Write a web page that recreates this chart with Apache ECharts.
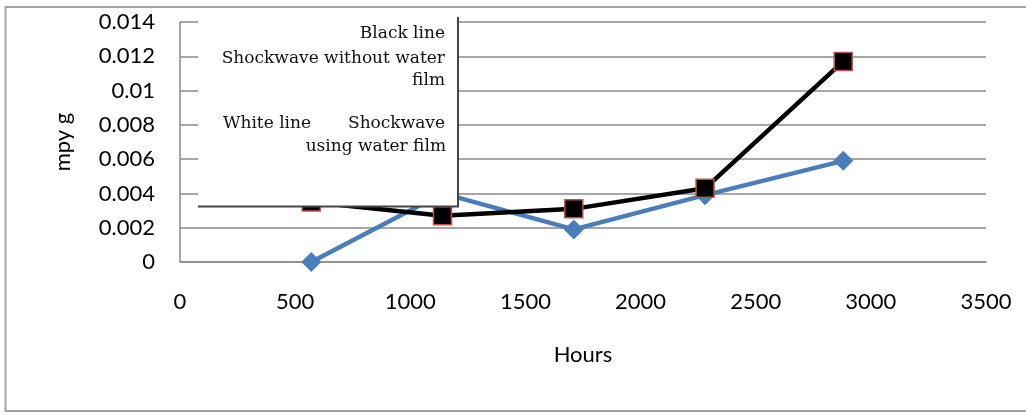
<!DOCTYPE html>
<html>
<head>
<meta charset="utf-8">
<script src="https://cdn.jsdelivr.net/npm/echarts@6/dist/echarts.min.js"></script>
<style>
  html, body { margin: 0; padding: 0; background: #fff; }
  #chart { width: 1026px; height: 414px; }
</style>
</head>
<body>
<div id="chart"></div>
<script>
// Exposure time in hours for each measurement
const hours = [570, 1140, 1710, 2280, 2880];
// Corrosion rate (mpy g) with shockwave treatment, no water film
const withoutWaterFilm = [0.0035, 0.0027, 0.0031, 0.0043, 0.0117];
// Corrosion rate (mpy g) with shockwave treatment using a water film
const withWaterFilm = [0, 0.0040, 0.0019, 0.0039, 0.0059];
// Value-axis tick labels
const yTickLabels = ['0', '0.002', '0.004', '0.006', '0.008', '0.01', '0.012', '0.014'];
const xTickLabels = ['0', '500', '1000', '1500', '2000', '2500', '3000', '3500'];

const pair = (xs, ys) => xs.map((x, i) => [x, ys[i]]);

const axisFont = 'Lato, "Open Sans", sans-serif';
const noteFont = '"DejaVu Serif", "Liberation Serif", serif';
const gridColor = '#8a8a8a';

// text line inside the annotation box
const note = (text, x, y, align) => ({
  type: 'text', z: 101, silent: true,
  style: { text, x, y, textAlign: align, textVerticalAlign: 'middle', font: '17px ' + noteFont, fill: '#111' }
});

const chart = echarts.init(document.getElementById('chart'), null, { renderer: 'canvas' });

chart.setOption({
  animation: false,
  backgroundColor: '#fff',
  grid: { left: 180, right: 40, top: 22, bottom: 152, containLabel: false },
  xAxis: {
    type: 'value',
    min: 0, max: 3500, interval: 500,
    name: 'Hours',
    nameLocation: 'middle',
    nameGap: 82,
    nameTextStyle: { fontFamily: axisFont, fontSize: 22, color: '#000' },
    axisLine: { show: true, lineStyle: { color: gridColor, width: 1.5 } },
    axisTick: { show: false },
    splitLine: { show: false },
    axisLabel: {
      margin: 29,
      fontFamily: axisFont, fontSize: 22, color: '#000',
      formatter: (v, i) => xTickLabels[i]
    }
  },
  yAxis: {
    type: 'value',
    min: 0, max: 0.014, interval: 0.002,
    name: 'mpy g',
    nameLocation: 'middle',
    nameGap: 106,
    nameRotate: 90,
    nameTextStyle: { fontFamily: axisFont, fontSize: 22, color: '#000' },
    axisLine: { show: true, lineStyle: { color: gridColor, width: 1.5 } },
    axisTick: { show: false },
    splitLine: { show: true, lineStyle: { color: gridColor, width: 1.5 } },
    axisLabel: {
      margin: 25,
      fontFamily: axisFont, fontSize: 22, color: '#000',
      formatter: (v, i) => yTickLabels[i]
    }
  },
  series: [
    {
      name: 'Shockwave using water film',
      type: 'line',
      data: pair(hours, withWaterFilm),
      symbol: 'diamond',
      symbolSize: 20,
      lineStyle: { color: '#4a7ebb', width: 4.5 },
      itemStyle: { color: '#4a7ebb' },
      z: 2
    },
    {
      name: 'Shockwave without water film',
      type: 'line',
      data: pair(hours, withoutWaterFilm),
      symbol: 'rect',
      symbolSize: 18,
      lineStyle: { color: '#000', width: 4.5 },
      itemStyle: { color: '#000', borderColor: '#c0504d', borderWidth: 1.5 },
      z: 3
    }
  ],
  graphic: [
    // chart area frame
    {
      type: 'rect', z: 0, silent: true,
      shape: { x: 5.5, y: 7, width: 1024, height: 404 },
      style: { fill: 'none', stroke: '#a3a3a3', lineWidth: 2 }
    },
    // annotation box over the plot
    { type: 'rect', z: 100, silent: true, shape: { x: 198, y: 16, width: 260, height: 190 }, style: { fill: '#fff' } },
    { type: 'line', z: 101, silent: true, shape: { x1: 458, y1: 17, x2: 458, y2: 207 }, style: { stroke: '#444', lineWidth: 2 } },
    { type: 'line', z: 101, silent: true, shape: { x1: 198, y1: 206.5, x2: 459, y2: 206.5 }, style: { stroke: '#444', lineWidth: 2 } },
    note('Black line', 445, 34, 'right'),
    note('Shockwave without water', 445, 59, 'right'),
    note('film', 445, 81, 'right'),
    note('White line', 223, 124, 'left'),
    note('Shockwave', 445, 124, 'right'),
    note('using water film', 446, 147, 'right')
  ]
});
</script>
</body>
</html>
